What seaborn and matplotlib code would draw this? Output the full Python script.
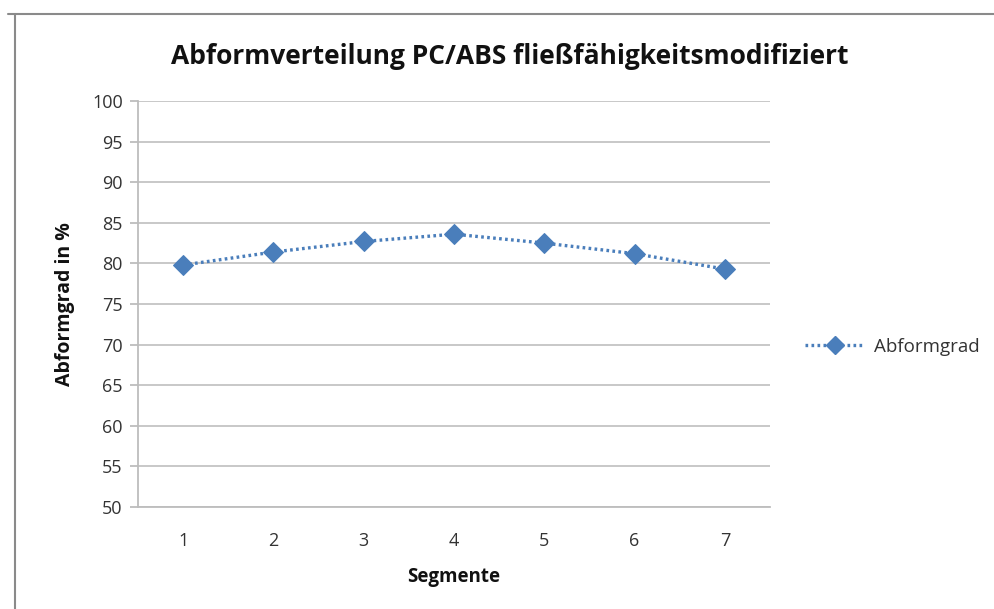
import matplotlib
matplotlib.use("Agg")
import matplotlib.pyplot as plt
import seaborn as sns
import pandas as pd
from matplotlib.lines import Line2D

segments = [1, 2, 3, 4, 5, 6, 7]
abformgrad = [79.8, 81.4, 82.7, 83.6, 82.5, 81.2, 79.3]
y_ticks = [50, 55, 60, 65, 70, 75, 80, 85, 90, 95, 100]

title = "Abformverteilung PC/ABS fließfähigkeitsmodifiziert"
xlabel = "Segmente"
ylabel = "Abformgrad in %"
series_name = "Abformgrad"

df = pd.DataFrame({"Segmente": segments, "Abformgrad": abformgrad})

sns.set_theme(style="white")
plt.rcParams['font.family'] = ['Open Sans', 'DejaVu Sans']

fig = plt.figure(figsize=(9.95, 6.09), dpi=100)
W, H = 995, 609
ax = fig.add_axes([138 / W, 1 - 507 / H, (770 - 138) / W, (507 - 101) / H])

color = "#4a7ebb"
dash = (0, (0.8, 1.0))
sns.lineplot(data=df, x="Segmente", y="Abformgrad", ax=ax, color=color,
             linestyle=dash, linewidth=2.4, marker="D", markersize=10,
             markeredgecolor=color, markerfacecolor=color, zorder=3)

ax.set_xlim(0.5, 7.5)
ax.set_ylim(50, 100)
ax.set_yticks(y_ticks)
ax.set_xticks(segments)
ax.set_xticklabels([str(s) for s in segments])
ax.yaxis.grid(True, color="#c4c4c4", linewidth=1.3)
ax.xaxis.grid(False)
for side in ["top", "right"]:
    ax.spines[side].set_visible(False)
for side in ["left", "bottom"]:
    ax.spines[side].set_color("#bdbdbd")
    ax.spines[side].set_linewidth(1.3)

ax.tick_params(axis="y", which="major", left=True, length=6, width=1.3,
               color="#bdbdbd", labelsize=13, labelcolor="#333333", pad=5)
ax.tick_params(axis="x", which="major", bottom=False, labelsize=13,
               labelcolor="#333333", pad=12)

ax.set_xlabel(xlabel, fontsize=13.5, fontweight="bold", color="#111111", labelpad=12)
ax.set_ylabel(ylabel, fontsize=14, fontweight="bold", color="#111111", labelpad=12)

fig.text(510 / W, 1 - 57 / H, title, ha="center", va="center",
         fontsize=19, fontweight="bold", color="#111111")

handle = Line2D([0], [0], color=color, linestyle=dash, linewidth=2.4,
                marker="D", markersize=9, markerfacecolor=color, markeredgecolor=color)
fig.legend([handle], [series_name], loc="center left",
           bbox_to_anchor=(788 / W, 1 - 347 / H), frameon=False,
           fontsize=13.5, handlelength=3.2, handletextpad=0.5, labelcolor="#333333")

# chart frame (partially visible)
fig.add_artist(Line2D([8 / W, 1.0], [1 - 14 / H, 1 - 14 / H], color="#8a8a8a",
                      linewidth=1.5, transform=fig.transFigure))
fig.add_artist(Line2D([15 / W, 15 / W], [0.0, 1 - 14 / H], color="#8a8a8a",
                      linewidth=1.5, transform=fig.transFigure))

fig.savefig("out.png", dpi=100)
